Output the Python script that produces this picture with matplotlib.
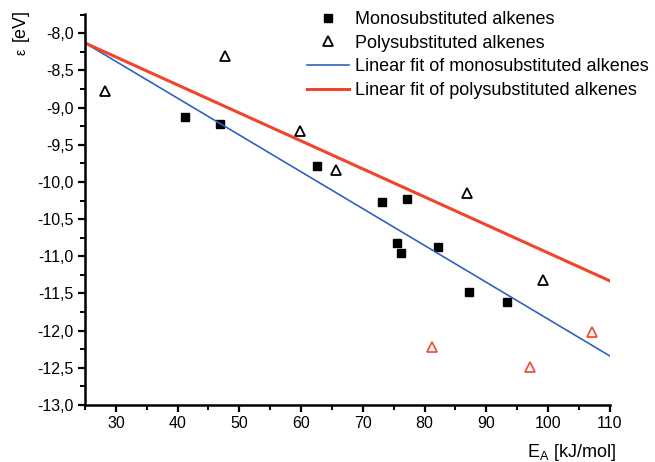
import matplotlib
matplotlib.use("Agg")
import matplotlib.pyplot as plt
from matplotlib.ticker import MultipleLocator, FuncFormatter

plt.rcParams['font.family'] = ['Liberation Sans', 'DejaVu Sans']

# monosubstituted alkenes
mono_x = [41.2, 46.9, 62.5, 73.1, 77.2, 75.6, 76.2, 82.2, 87.2, 93.4]
mono_y = [-9.13, -9.22, -9.78, -10.27, -10.23, -10.82, -10.95, -10.87, -11.48, -11.62]

# polysubstituted alkenes (used in fit)
poly_x = [28.2, 47.6, 59.9, 65.6, 86.8, 99.2]
poly_y = [-8.78, -8.30, -9.31, -9.84, -10.15, -11.32]

# polysubstituted alkenes (outliers, red)
out_x = [81.2, 97.0, 107.1]
out_y = [-12.22, -12.49, -12.02]

# linear fits (end points)
fit_x = [25, 110]
mono_fit = [-8.13, -12.34]
poly_fit = [-8.13, -11.33]

fig = plt.figure(figsize=(6.55, 4.62), dpi=100)
ax = fig.add_axes([0.1298, 0.1234, 0.8012, 0.8463])

ax.plot(mono_x, mono_y, 's', color='black', markersize=6, label='Monosubstituted alkenes')
ax.plot(poly_x, poly_y, '^', markerfacecolor='white', markeredgecolor='black',
        markersize=6.5, markeredgewidth=1.3, label='Polysubstituted alkenes')
ax.plot(out_x, out_y, '^', markerfacecolor='white', markeredgecolor='#f0533a',
        markersize=6.5, markeredgewidth=1.3)
ax.plot(fit_x, mono_fit, color='#2f62c4', linewidth=1.2, label='Linear fit of monosubstituted alkenes')
ax.plot(fit_x, poly_fit, color='#f0452a', linewidth=2.2, label='Linear fit of polysubstituted alkenes')

ax.set_xlim(25, 110)
ax.set_ylim(-13.0, -7.74)

for s in ['top', 'right']:
    ax.spines[s].set_visible(False)
for s in ['left', 'bottom']:
    ax.spines[s].set_linewidth(1.8)

ax.xaxis.set_major_locator(MultipleLocator(10))
ax.xaxis.set_minor_locator(MultipleLocator(5))
ax.yaxis.set_major_locator(MultipleLocator(0.5))
ax.yaxis.set_minor_locator(MultipleLocator(0.25))
ax.yaxis.set_major_formatter(FuncFormatter(lambda v, p: f'{v:.1f}'.replace('.', ',')))
ax.tick_params(which='major', direction='out', length=5, width=1.6, labelsize=11.5, pad=3)
ax.tick_params(which='minor', direction='out', length=3.5, width=1.4)

handles, labels = ax.get_legend_handles_labels()
fig.legend(handles, labels, loc='upper left', bbox_to_anchor=(307 / 655, 1 - 11 / 462),
           frameon=False, fontsize=13, handlelength=2.3, handletextpad=0.38,
           labelspacing=0.37, borderpad=0, borderaxespad=0)

fig.text(20 / 655, 1 - 25 / 462, '[eV]', rotation=90, ha='center', va='center', fontsize=13)
fig.text(21 / 655, 1 - 52 / 462, 'ε', rotation=90, ha='center', va='center', fontsize=10)
fig.text(527 / 655, 1 - 442 / 462, r'E$_\mathregular{A}$ [kJ/mol]', ha='left', va='top', fontsize=13)

fig.savefig('out.png', dpi=100)
